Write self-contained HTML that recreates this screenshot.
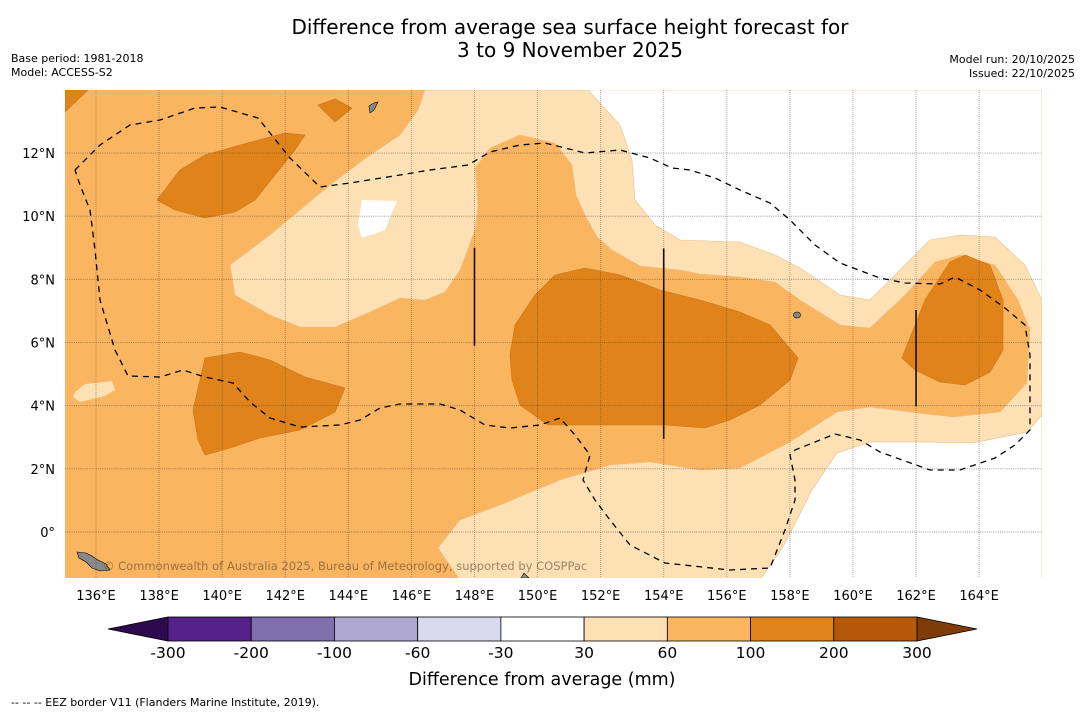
<!DOCTYPE html>
<html><head><meta charset="utf-8"><style>
body{margin:0;background:#fff;font-family:"DejaVu Sans","Liberation Sans",sans-serif;}
svg{display:block}
</style></head><body>
<svg width="1085" height="713" viewBox="0 0 1085 713" xmlns="http://www.w3.org/2000/svg" font-family="DejaVu Sans, Liberation Sans, sans-serif" id="root">
<text x="570" y="34" font-size="20" text-anchor="middle">Difference from average sea surface height forecast for</text>
<text x="570" y="57" font-size="20" text-anchor="middle">3 to 9 November 2025</text>
<text x="11" y="62" font-size="11">Base period: 1981-2018</text>
<text x="11" y="76" font-size="11">Model: ACCESS-S2</text>
<text x="1075" y="63" font-size="11" text-anchor="end">Model run: 20/10/2025</text>
<text x="1075" y="77" font-size="11" text-anchor="end">Issued: 22/10/2025</text>
<defs><clipPath id="pc"><rect x="65" y="90" width="977" height="488"/></clipPath></defs>
<g id="map" clip-path="url(#pc)"></g>
<g id="axes"></g>
<g id="cbar"></g>
<text x="542" y="685" font-size="17.5" text-anchor="middle">Difference from average (mm)</text>
<text x="11" y="706" font-size="11">--  --  -- EEZ border V11 (Flanders Marine Institute, 2019).</text>
</svg>
<script>
const lonTicks=[136,138,140,142,144,146,148,150,152,154,156,158,160,162,164];
const latTicks=[0,2,4,6,8,10,12];
const cbLevels=["-300","-200","-100","-60","-30","30","60","100","200","300"];
const cbColors=["#54228a","#7f6fac","#aea7d2","#d8d9eb","#ffffff","#fde0b3","#fab560","#e0831b","#b35907"];
const NS="http://www.w3.org/2000/svg";
const X=lon=>96+(lon-136)*31.54, Y=lat=>532-lat*31.58;
const P=(px,py)=>[136+(px-96)/31.54,(532-py)/31.58];
function pts(a){return a.map(p=>X(p[0]).toFixed(1)+","+Y(p[1]).toFixed(1)).join(" ");}
function mk(t,at,parent){const e=document.createElementNS(NS,t);for(const k in at)e.setAttribute(k,at[k]);parent.appendChild(e);return e;}
const map=document.getElementById('map');
const cvt=a=>a.map(p=>P(p[0],p[1]));
const lightShape=cvt([[425,90],[1042,90],[1042,415],[1027,432],[973,443],[917,442],[870,442],[837,453],[812,490],[783,547],[760,580],[460,580],[438,548],[460,520],[500,505],[560,480],[610,465],[650,462],[700,470],[740,468],[790,442],[837,412],[870,407],[917,413],[953,417],[1000,412],[1027,383],[1030,330],[1018,300],[995,265],[960,255],[935,262],[905,295],[870,328],[840,325],[800,300],[775,282],[740,277],[700,274],[680,270],[640,266],[612,250],[597,237],[585,215],[576,195],[572,165],[555,143],[520,135],[490,148],[475,168],[478,205],[475,230],[460,270],[445,292],[425,300],[400,298],[370,312],[335,327],[300,327],[270,315],[235,295],[230,265],[270,235],[300,210],[330,185],[370,155],[400,135],[418,110]]);
const whiteShape=cvt([[588,90],[620,125],[632,160],[635,200],[655,225],[680,240],[740,242],[775,255],[800,268],[840,295],[870,300],[900,270],[930,240],[960,235],[995,237],[1025,265],[1042,300],[1042,90]]);
const whiteBottom=cvt([[760,580],[783,547],[812,490],[837,453],[870,442],[917,442],[973,443],[1027,432],[1042,415],[1042,580]]);
const whiteHole=cvt([[362,200],[397,201],[385,230],[362,238],[358,225]]);
const lightBlob=cvt([[75,392],[85,384],[112,381],[115,390],[105,396],[80,402],[73,397]]);
const darkShapes=[
cvt([[65,90],[88,90],[65,112]]),
cvt([[318,105],[335,99],[352,108],[335,122]]),
cvt([[157,200],[180,170],[205,155],[240,145],[285,133],[305,135],[295,150],[275,175],[255,200],[235,212],[205,218],[175,210]]),
cvt([[205,358],[240,352],[270,360],[305,377],[345,388],[335,412],[300,430],[260,438],[230,448],[205,455],[198,440],[193,410],[200,380]]),
cvt([[510,355],[515,325],[535,295],[555,275],[585,268],[620,275],[660,290],[700,300],[740,312],[770,325],[798,358],[790,380],[760,405],[730,420],[705,428],[665,425],[610,425],[548,425],[520,405],[512,380]]),
cvt([[902,358],[925,300],[950,262],[965,255],[990,265],[1003,300],[1003,350],[990,372],[965,385],[940,382],[915,370]])];
const eez=cvt([[75,170],[100,145],[130,125],[160,120],[195,108],[220,107],[258,118],[290,158],[320,187],[350,183],[400,175],[430,170],[468,165],[490,152],[520,145],[545,143],[585,153],[620,150],[650,158],[672,168],[690,170],[715,178],[740,190],[770,203],[790,220],[815,245],[840,263],[880,278],[905,283],[940,284],[955,277],[980,290],[1005,308],[1025,325],[1030,355],[1030,430],[1015,445],[995,458],[960,470],[930,470],[880,452],[860,440],[835,434],[820,440],[795,450],[790,455],[795,480],[795,500],[785,530],[770,568],[730,570],[665,563],[630,545],[610,520],[595,500],[583,480],[590,455],[575,435],[560,418],[540,425],[510,428],[485,425],[460,410],[440,404],[400,404],[380,408],[360,420],[340,425],[300,427],[270,418],[250,402],[233,383],[205,377],[183,370],[160,377],[128,376],[115,350],[100,300],[95,250],[90,210],[80,185],[75,170]]);
const vlines=[[148,5.9,9.0],[154,2.95,8.98],[162,3.98,7.03]];
mk('rect',{x:60,y:85,width:990,height:500,fill:'#fab560'},map);
let e;
e=mk('polygon',{points:pts(lightShape),fill:'#fde0b3',stroke:'#e9c08a','stroke-width':0.6},map);

e=mk('polygon',{points:pts(whiteShape),fill:'#ffffff',stroke:'#e9c08a','stroke-width':0.6},map);

e=mk('polygon',{points:pts(whiteBottom),fill:'#ffffff',stroke:'#e9c08a','stroke-width':0.6},map);

e=mk('polygon',{points:pts(whiteHole),fill:'#ffffff'},map);

e=mk('polygon',{points:pts(lightBlob),fill:'#fde0b3'},map);

darkShapes.forEach(s=>{const d=mk('polygon',{points:pts(s),fill:'#e0831b',stroke:'#c9741a','stroke-width':0.6},map);

});
mk('polygon',{points:'77,552 86,553 92,556 98,560 106,564 110,570 100,571 92,568 86,562 79,558',fill:'#888',stroke:'#000','stroke-width':0.6},map);
mk('polygon',{points:'369,106 374,103 378,102 374,110 370,113',fill:'#888',stroke:'#000','stroke-width':0.6},map);
mk('ellipse',{cx:797,cy:315,rx:3.5,ry:3,fill:'#888',stroke:'#000','stroke-width':0.6},map);
mk('polygon',{points:'521,578 524,573 529,578',fill:'#888',stroke:'#000','stroke-width':0.6},map);
lonTicks.forEach(l=>{mk('line',{x1:X(l),x2:X(l),y1:90,y2:578,stroke:'rgba(60,60,60,0.45)','stroke-width':0.9,'stroke-dasharray':'1 1'},map);});
latTicks.forEach(l=>{mk('line',{x1:65,x2:1042,y1:Y(l),y2:Y(l),stroke:'rgba(60,60,60,0.55)','stroke-width':0.9,'stroke-dasharray':'1 1.2'},map);});
e=mk('polyline',{points:pts(eez),fill:'none',stroke:'#000','stroke-width':1.3,'stroke-dasharray':'6 5'},map);

vlines.forEach(v=>{const l=mk('line',{x1:X(v[0]),x2:X(v[0]),y1:Y(v[2]),y2:Y(v[1]),stroke:'#111','stroke-width':1.6},map);

});
const ct=mk('text',{x:103,y:570,'font-size':11.5,fill:'rgba(90,70,50,0.6)'},map);ct.textContent='© Commonwealth of Australia 2025, Bureau of Meteorology, supported by COSPPac';

const ax=document.getElementById('axes');
lonTicks.forEach(l=>{const t=mk('text',{x:X(l),y:600,'font-size':13,'text-anchor':'middle'},ax);t.textContent=l+'°E';
});
latTicks.forEach(l=>{const t=mk('text',{x:55,y:Y(l)+5,'font-size':13,'text-anchor':'end'},ax);t.textContent=l===0?'0°':l+'°N';
});
const cb=document.getElementById('cbar');
const x0=168,x1=917,y0=617,y1=641,w=(x1-x0)/cbColors.length;
mk('polygon',{points:`108,629 ${x0},${y0} ${x0},${y1}`,fill:'#2d0a4e',stroke:'#000','stroke-width':0.8},cb);
mk('polygon',{points:`977,629 ${x1},${y0} ${x1},${y1}`,fill:'#7f3b08',stroke:'#000','stroke-width':0.8},cb);
cbColors.forEach((c,i)=>{const r=mk('rect',{x:x0+i*w,y:y0,width:w,height:y1-y0,fill:c,stroke:'#000','stroke-width':0.8},cb);
});
cbLevels.forEach((s,i)=>{const t=mk('text',{x:x0+i*w,y:658,'font-size':15.5,'text-anchor':'middle'},cb);t.textContent=s;
});
</script>
</body></html>
